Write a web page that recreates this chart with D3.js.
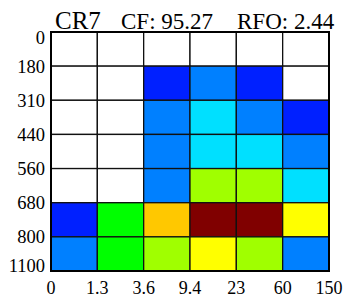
<!DOCTYPE html>
<html>
<head>
<meta charset="utf-8">
<script src="https://cdn.jsdelivr.net/npm/d3@7"></script>
<style>
  body { margin: 0; background: #fff; }
  svg { display: block; }
</style>
</head>
<body>
<svg id="chart" width="346" height="297"></svg>
<script>
// tick labels on the cell boundaries
const xTicks = ["0", "1.3", "3.6", "9.4", "23", "60", "150"];
const yTicks = ["0", "180", "310", "440", "560", "680", "800", "1100"];

// colour class of each cell, rows top to bottom, columns left to right (0 = empty)
const cellLevels = [
    [0, 0, 0, 0, 0, 0],
    [0, 0, 1, 2, 1, 0],
    [0, 0, 2, 3, 2, 1],
    [0, 0, 2, 3, 3, 2],
    [0, 0, 2, 5, 5, 3],
    [1, 4, 7, 8, 8, 6],
    [2, 4, 5, 6, 5, 2]
];
const levelColors = ["#ffffff", "#0020ff", "#0080ff", "#00e0ff", "#00ff00",
                     "#a0ff00", "#ffff00", "#ffc800", "#800000"];

const titleParts = [
    {text: "CR7", size: 25, x: 55},
    {text: "CF: 95.27", size: 23, x: 121},
    {text: "RFO: 2.44", size: 23, x: 237}
];

const font = "'Liberation Serif', 'Times New Roman', serif";

const svg = d3.select("#chart");
const margin = {top: 32, right: 17, bottom: 26, left: 51};
const width = 346 - margin.left - margin.right,
    height = 297 - margin.top - margin.bottom;

const x = d3.scaleLinear()
    .domain([0, xTicks.length - 1])
    .range([margin.left, margin.left + width]);

const y = d3.scaleLinear()
    .domain([0, yTicks.length - 1])
    .range([margin.top, margin.top + height]);

const color = d3.scaleOrdinal()
    .domain(d3.range(levelColors.length))
    .range(levelColors);

const cells = cellLevels.flatMap((row, r) => row.map((v, c) => ({r, c, v})));

svg.append("g")
    .selectAll("rect")
    .data(cells)
    .join("rect")
    .attr("x", d => x(d.c))
    .attr("y", d => y(d.r))
    .attr("width", x(1) - x(0))
    .attr("height", y(1) - y(0))
    .attr("fill", d => color(d.v))
    .attr("stroke", "#111")
    .attr("stroke-width", 1.3);

// outer frame
svg.append("rect")
    .attr("x", x(0))
    .attr("y", y(0))
    .attr("width", width)
    .attr("height", height)
    .attr("fill", "none")
    .attr("stroke", "#000")
    .attr("stroke-width", 2);

// y labels, ends kept inside the frame
svg.append("g")
    .selectAll("text")
    .data(yTicks)
    .join("text")
    .attr("x", 45)
    .attr("y", (d, i) => Math.max(margin.top + 6, Math.min(margin.top + height - 5, y(i))))
    .attr("dy", "0.35em")
    .attr("text-anchor", "end")
    .style("font-family", font)
    .attr("font-size", 18.5)
    .text(d => d);

svg.append("g")
    .selectAll("text")
    .data(xTicks)
    .join("text")
    .attr("x", (d, i) => x(i))
    .attr("y", 293.5)
    .attr("text-anchor", "middle")
    .style("font-family", font)
    .attr("font-size", 18)
    .text(d => d);

svg.append("g")
    .selectAll("text")
    .data(titleParts)
    .join("text")
    .attr("x", d => d.x)
    .attr("y", 28.5)
    .style("font-family", font)
    .attr("font-size", d => d.size)
    .text(d => d.text);
</script>
</body>
</html>
